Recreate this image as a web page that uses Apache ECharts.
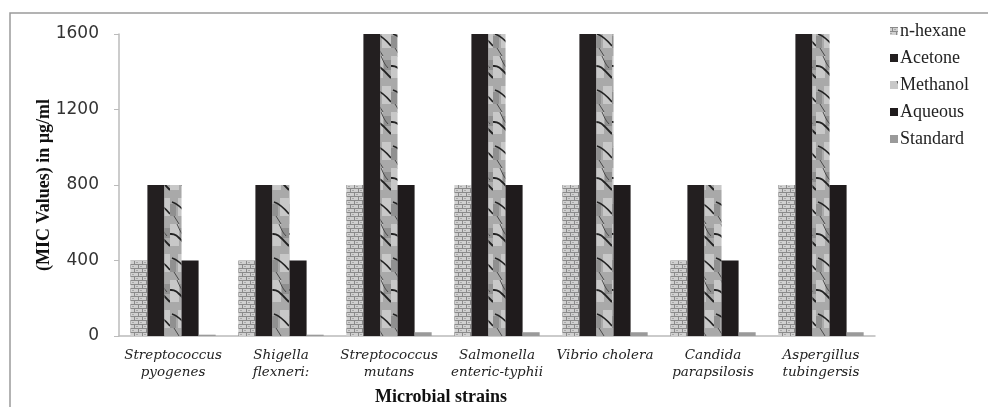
<!DOCTYPE html>
<html><head><meta charset="utf-8">
<script src="https://cdn.jsdelivr.net/npm/echarts@6/dist/echarts.min.js"></script>
<style>html,body{margin:0;padding:0;background:#fff}#c{width:988px;height:407px}</style>
</head><body><div id="c"></div>
<script>
const categories = ["Streptococcus\npyogenes","Shigella\nflexneri:","Streptococcus\nmutans","Salmonella\nenteric-typhii","Vibrio cholera","Candida\nparapsilosis","Aspergillus\ntubingersis"];
const seriesNames = ["n-hexane","Acetone","Methanol","Aqueous","Standard"];
const nhexane  = [400,400,800,800,800,400,800];
const acetone  = [800,800,1600,1600,1600,800,1600];
const methanol = [800,800,1600,1600,1600,800,1600];
const aqueous  = [400,400,800,800,800,400,800];
const standard = [7,7,20,20,20,20,20];
const yTicks = [0,400,800,1200,1600];

function brick(){
  const c=document.createElement('canvas');c.width=8;c.height=8;const g=c.getContext('2d');
  g.fillStyle='#d0d0d0';g.fillRect(0,0,8,8);
  g.fillStyle='#8a8a8a';
  g.fillRect(0,0,8,1);g.fillRect(0,4,8,1);
  g.fillRect(2,1,1,3);g.fillRect(6,5,1,3);
  g.fillStyle='#a8a8a8';g.fillRect(4,2,2,1);g.fillRect(0,6,2,1);
  return c;
}
function marble(){
  const c=document.createElement('canvas');c.width=17;c.height=56;const g=c.getContext('2d');
  g.fillStyle='#a9a9a9';g.fillRect(0,0,17,56);
  g.fillStyle='#c8c8c8';g.fillRect(0,0,9,22);g.fillRect(8,30,9,18);
  g.fillStyle='#909090';g.fillRect(10,4,7,10);g.fillRect(0,36,6,12);
  g.strokeStyle='#222';g.lineWidth=2;
  g.beginPath();g.moveTo(0,10);g.bezierCurveTo(6,9,9,14,17,22);g.stroke();
  g.lineWidth=1.6;
  g.beginPath();g.moveTo(2,34);g.bezierCurveTo(8,36,12,40,17,46);g.stroke();
  g.strokeStyle='#4a4a4a';g.lineWidth=1;
  g.beginPath();g.moveTo(7,0);g.bezierCurveTo(9,4,10,8,14,12);g.stroke();
  g.beginPath();g.moveTo(4,48);g.lineTo(9,56);g.stroke();
  return c;
}
const brickPat={image:brick(),repeat:'repeat'};
const marblePat={image:marble(),repeat:'repeat'};
const colors=[brickPat,'#231f20',marblePat,'#1f1b1c','#9a9a9a'];
const datas=[nhexane,acetone,methanol,aqueous,standard];

const chart=echarts.init(document.getElementById('c'));
chart.setOption({
  animation:false,
  backgroundColor:'#fff',
  graphic:[{type:'rect',shape:{x:10,y:13,width:990,height:420},style:{fill:'none',stroke:'#9a9a9a',lineWidth:1.5},z:-1}],
  legend:{
    orient:'vertical',left:885,top:17,itemWidth:8,itemHeight:8,itemGap:9,
    icon:'rect',
    textStyle:{fontFamily:'Liberation Serif',fontSize:18,color:'#222',padding:[0,0,0,-3]},
    data:seriesNames
  },
  grid:{left:119,right:113,top:34,bottom:71,outerBoundsMode:'none',containLabel:false},
  xAxis:{
    type:'category',data:categories,
    name:'Microbial strains',nameLocation:'middle',nameGap:52,nameMoveOverlap:false,
    nameTextStyle:{fontFamily:'Liberation Serif',fontWeight:'bold',fontSize:18,color:'#111',padding:[0,112,0,0]},
    axisLine:{lineStyle:{color:'#bbb',width:1.5}},
    axisTick:{inside:true,length:4,lineStyle:{color:'#999'}},
    axisLabel:{interval:0,margin:11,fontFamily:'DejaVu Serif',fontStyle:'italic',fontSize:13.5,color:'#222',lineHeight:17}
  },
  yAxis:{
    type:'value',min:0,max:1600,interval:400,
    name:'(MIC Values) in µg/ml',nameLocation:'middle',nameGap:66,nameMoveOverlap:false,
    nameTextStyle:{fontFamily:'Liberation Serif',fontWeight:'bold',fontSize:18,color:'#111'},
    axisLine:{show:true,lineStyle:{color:'#bbb',width:1.5}},
    axisTick:{show:true,length:5,lineStyle:{color:'#bbb'}},
    splitLine:{show:false},
    axisLabel:{margin:20,fontFamily:'DejaVu Sans',fontSize:17,color:'#333',
      formatter:v=>yTicks.includes(v)?String(v):''}
  },
  series:seriesNames.map((n,i)=>({
    name:n,type:'bar',data:datas[i],barGap:'0%',barCategoryGap:'21%',
    itemStyle:{color:colors[i]}
  }))
});
</script></body></html>
